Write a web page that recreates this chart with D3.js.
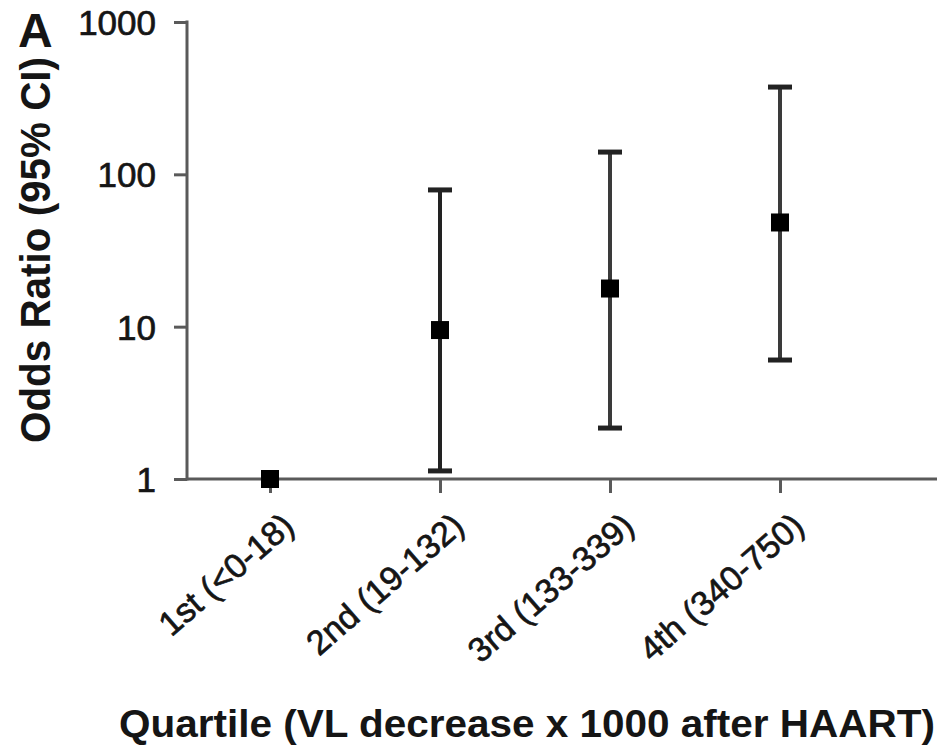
<!DOCTYPE html>
<html>
<head>
<meta charset="utf-8">
<script src="https://cdn.jsdelivr.net/npm/d3@7"></script>
<style>
  html, body { margin: 0; padding: 0; background: #fff; }
  svg { display: block; font-family: "Liberation Sans", Arial, sans-serif; }
</style>
</head>
<body>
<svg id="chart" width="937" height="746"></svg>
<script>
// ---- data ----
const categories = ["1st (<0-18)", "2nd (19-132)", "3rd (133-339)", "4th (340-750)"];
const oddsRatio  = [1, 9.5, 17.8, 48.3];
const ciLower    = [1, 1.13, 2.16, 6.04];
const ciUpper    = [1, 79, 140, 374];
const yTicks     = [1, 10, 100, 1000];
const yTitle = "Odds Ratio (95% CI)";
const xTitle = "Quartile (VL decrease x 1000 after HAART)";
const panelLabel = "A";

const svg = d3.select("#chart");
const axisColor = "#5a5a5a";
const textColor = "#151515";

const x = d3.scalePoint().domain(categories).range([270, 780]);
const y = d3.scaleLog().domain([1, 1000]).range([479, 22]);
const axisLeft = 187;

// y axis
const yAxis = d3.axisLeft(y).tickValues(yTicks).tickFormat(d3.format("d")).tickSize(13).tickPadding(18);
const gy = svg.append("g").attr("transform", `translate(${axisLeft},0)`).call(yAxis);
gy.select(".domain").remove();
gy.selectAll(".tick line").attr("stroke", axisColor).attr("stroke-width", 3);
gy.selectAll(".tick text").attr("fill", textColor).attr("font-size", 35).attr("dy", "0.36em")
  .attr("stroke", textColor).attr("stroke-width", 0.7)
  .attr("font-family", "'Liberation Sans', Arial, sans-serif");
svg.append("line").attr("x1", axisLeft).attr("x2", axisLeft)
  .attr("y1", y(1000) - 1.5).attr("y2", y(1) + 1.5)
  .attr("stroke", axisColor).attr("stroke-width", 3);

// x axis
const xAxis = d3.axisBottom(x).tickSize(14).tickFormat("");
const gx = svg.append("g").attr("transform", `translate(0,${y(1)})`).call(xAxis);
gx.select(".domain").remove();
gx.selectAll(".tick line").attr("stroke", axisColor).attr("stroke-width", 3);
svg.append("line").attr("x1", axisLeft).attr("x2", 937)
  .attr("y1", y(1)).attr("y2", y(1))
  .attr("stroke", axisColor).attr("stroke-width", 3);

// rotated category labels
svg.append("g").selectAll("text").data(categories).join("text")
  .attr("transform", d => `translate(${x(d) + 26},${y(1) + 50}) rotate(-41)`)
  .attr("text-anchor", "end")
  .attr("font-size", 34)
  .attr("fill", textColor)
  .attr("stroke", textColor).attr("stroke-width", 0.7)
  .text(d => d);

// error bars
const rows = categories.map((c, i) => ({ c, or: oddsRatio[i], lo: ciLower[i], hi: ciUpper[i] }));
const eb = svg.append("g");
rows.filter(r => r.hi > r.lo).forEach((r, i) => {
  const col = i === 0 ? "#222" : "#3a3a3a";
  eb.append("line").attr("x1", x(r.c)).attr("x2", x(r.c))
    .attr("y1", y(r.lo)).attr("y2", y(r.hi))
    .attr("stroke", col).attr("stroke-width", 4);
  [r.lo, r.hi].forEach(v => {
    eb.append("line").attr("x1", x(r.c) - 12).attr("x2", x(r.c) + 12)
      .attr("y1", y(v)).attr("y2", y(v))
      .attr("stroke", "#222").attr("stroke-width", 5);
  });
});

// markers
svg.append("g").selectAll("rect").data(rows).join("rect")
  .attr("x", d => x(d.c) - 9).attr("y", d => y(d.or) - 9)
  .attr("width", 18).attr("height", 18)
  .attr("fill", "#000");

// y title
svg.append("text")
  .attr("transform", `translate(50,443) rotate(-90)`)
  .attr("text-anchor", "start")
  .attr("font-size", 43).attr("font-weight", "bold").attr("fill", textColor)
  .attr("textLength", 386).attr("lengthAdjust", "spacingAndGlyphs")
  .text(yTitle);

// x title
svg.append("text")
  .attr("x", 119).attr("y", 737)
  .attr("font-size", 39).attr("font-weight", "bold").attr("fill", textColor)
  .attr("textLength", 816).attr("lengthAdjust", "spacingAndGlyphs")
  .text(xTitle);

// panel label
svg.append("text")
  .attr("x", 18).attr("y", 47)
  .attr("font-size", 48).attr("font-weight", "bold").attr("fill", textColor)
  .text(panelLabel);
</script>
</body>
</html>
